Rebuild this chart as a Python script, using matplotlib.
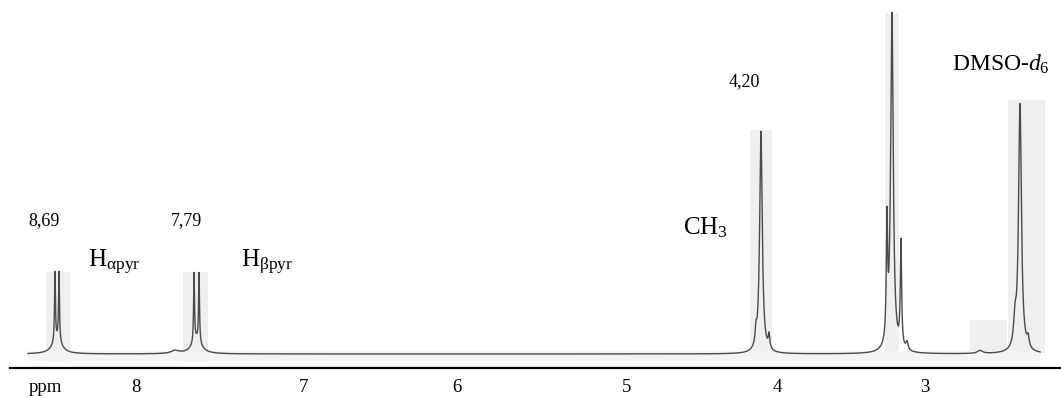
import numpy as np
import matplotlib
matplotlib.use("Agg")
import matplotlib.pyplot as plt
from matplotlib.patches import Rectangle

plt.rcParams['font.family'] = ['Liberation Serif', 'DejaVu Serif']
plt.rcParams['mathtext.fontset'] = 'custom'
plt.rcParams['mathtext.rm'] = 'Liberation Serif'
plt.rcParams['mathtext.it'] = 'Liberation Serif:italic'
plt.rcParams['mathtext.bf'] = 'Liberation Serif:bold'

# ---- data (ppm positions as drawn on the page) ----
peak_ppm    = [8.703, 8.677, 8.690, 7.809, 7.777, 7.793, 7.931,
               4.197, 4.165, 4.113,
               3.355, 3.323, 3.265, 3.226,
               2.757, 2.532, 2.500, 2.448]
peak_height = [69, 69, 14, 69, 69, 14, 3,
               14, 222, 14,
               117, 338, 105, 8,
               3, 25, 248, 10]
peak_width  = [0.0035, 0.0035, 0.035, 0.0035, 0.0035, 0.035, 0.03,
               0.006, 0.010, 0.006,
               0.005, 0.010, 0.005, 0.008,
               0.02, 0.010, 0.011, 0.008]

trace_range = [8.876, 2.371]

tick_ppm    = [8.767, 8.182, 7.109, 6.119, 5.026, 4.062, 3.110]
tick_labels = ["ppm", "8", "7", "6", "5", "4", "3"]

# ---- spectrum from the peak list ----
ppm = np.linspace(trace_range[0], trace_range[1], 60000)
intensity = np.zeros_like(ppm)
for p, h, w in zip(peak_ppm, peak_height, peak_width):
    intensity += h / (1.0 + ((ppm - p) / w) ** 2)

# pixel helpers for placing styling elements
def px2x(x):
    return 8.69 - (x - 57) / 155.57

def px2y(y):
    return 354 - y

fig = plt.figure(figsize=(10.61, 3.97), dpi=100)
fig.patch.set_facecolor('white')
ax = fig.add_axes([10 / 1061, (397 - 368) / 397, 1 - 10 / 1061, 368 / 397])
ax.set_facecolor('none')

ax.set_xlim(px2x(10), px2x(1061))
ax.set_ylim(px2y(368), px2y(0))

# light scan-like shading behind peaks
patches = [(46, 70, 272, 362), (183, 208, 272, 362), (750, 772, 130, 355),
           (885, 899, 13, 352), (1008, 1045, 100, 353), (970, 1007, 320, 353)]
for x0, x1, yt, yb in patches:
    ax.add_patch(Rectangle((px2x(x0), px2y(yb)), px2x(x1) - px2x(x0),
                           px2y(yt) - px2y(yb), facecolor='#efefef',
                           edgecolor='none', zorder=0))
ax.add_patch(Rectangle((px2x(28), px2y(361)), px2x(1040) - px2x(28),
                       10, facecolor='#f4f4f4', edgecolor='none', zorder=0))

ax.plot(ppm, intensity, color='#4a4a4a', lw=1.0, zorder=2)

for s in ['top', 'left', 'right']:
    ax.spines[s].set_visible(False)
ax.spines['bottom'].set_linewidth(1.6)
ax.spines['bottom'].set_color('black')
ax.set_yticks([])
ax.set_xticks(tick_ppm)
ax.set_xticklabels(tick_labels, fontsize=13.5)
ax.tick_params(axis='x', length=0, pad=8)

txt = dict(ha='center', va='center', color='black', zorder=3)
ax.text(px2x(44), px2y(221), "8,69", fontsize=13, **txt)
ax.text(px2x(186), px2y(221), "7,79", fontsize=13, **txt)
ax.text(px2x(744), px2y(82), "4,20", fontsize=13, **txt)
ax.text(px2x(114), px2y(262), r"H$_{\mathrm{αpyr}}$", fontsize=18, **txt)
ax.text(px2x(267), px2y(262), r"H$_{\mathrm{βpyr}}$", fontsize=18, **txt)
ax.text(px2x(706), px2y(228), r"CH$_{3}$", fontsize=18, **txt)
ax.text(px2x(1001), px2y(64), r"DMSO-$\mathit{d_{6}}$", fontsize=17, **txt)

fig.savefig("out.png", dpi=100)
